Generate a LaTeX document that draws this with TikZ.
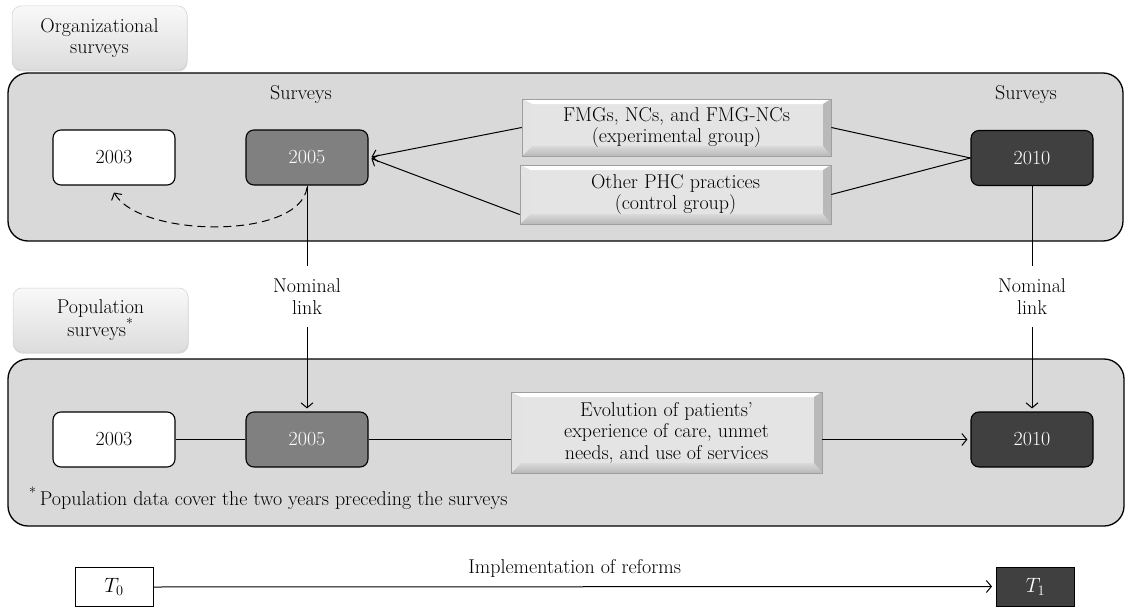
\documentclass[tikz,border=0pt]{standalone}
\usetikzlibrary{arrows.meta,shadows,calc}
\definecolor{panel}{HTML}{D9D9D9}
\definecolor{midgray}{HTML}{808080}
\definecolor{darkgray}{HTML}{404040}
\definecolor{bevelface}{HTML}{E4E4E4}
\tikzset{
  panelbox/.style={draw=black, line width=1.3pt, fill=panel, rounded corners=20pt},
  labelbox/.style={rounded corners=9pt, draw=gray!35, line width=0.5pt, top color=gray!5, bottom color=gray!27,
    drop shadow={shadow xshift=0.5pt, shadow yshift=-1.5pt, opacity=0.3},
    align=center, minimum width=175pt, minimum height=64pt, inner sep=2pt},
  yearbox/.style={draw=black, line width=1.1pt, rounded corners=8pt,
    minimum width=122pt, minimum height=55pt, inner sep=0pt},
  lightyear/.style={yearbox, fill=white},
  midyear/.style={yearbox, fill=midgray, text=white},
  darkyear/.style={yearbox, fill=darkgray, text=white},
  bevelbox/.style={draw=gray!75, line width=0.6pt, fill=bevelface, align=center, inner sep=0pt,
    path picture={
      \fill[white] (path picture bounding box.north west) -- (path picture bounding box.north east)
        -- ([shift={(-8pt,-5pt)}]path picture bounding box.north east)
        -- ([shift={(10pt,-5pt)}]path picture bounding box.north west) -- cycle;
      \fill[gray!55] (path picture bounding box.north east) -- (path picture bounding box.south east)
        -- ([shift={(-8pt,10pt)}]path picture bounding box.south east)
        -- ([shift={(-8pt,-5pt)}]path picture bounding box.north east) -- cycle;
      \shade[top color=gray!30, bottom color=gray!55] (path picture bounding box.south east) -- (path picture bounding box.south west)
        -- ([shift={(10pt,10pt)}]path picture bounding box.south west)
        -- ([shift={(-8pt,10pt)}]path picture bounding box.south east) -- cycle;
      \fill[gray!22] (path picture bounding box.north west)
        -- ([shift={(10pt,-5pt)}]path picture bounding box.north west)
        -- ([shift={(10pt,10pt)}]path picture bounding box.south west)
        -- (path picture bounding box.south west) -- cycle;
    }},
  tbox/.style={draw=black, line width=1pt, minimum width=78pt, minimum height=39pt, inner sep=0pt},
  conn/.style={line width=1pt},
  arr/.style={conn, -{Straight Barb[length=5pt,width=12pt]}, shorten >=3pt},
  nomlabel/.style={align=center, inner xsep=2pt, inner ysep=12.5pt}
}
\begin{document}
\begin{tikzpicture}[x=1pt, y=-1pt, font=\fontsize{20}{21.5}\selectfont]
\useasboundingbox (0,0) rectangle (1125,610);

% panels
\node[panelbox, minimum width=1115pt, minimum height=168pt] (toppanel) at (565.5,157) {};
\node[panelbox, minimum width=1116pt, minimum height=167pt] (botpanel) at (566,442.5) {};

% section labels
\node[labelbox] (orglab) at (99.5,38) {Organizational\\surveys};
\node[labelbox] (poplab) at (100.5,320) {Population\\surveys\textsuperscript{*}};

% top row
\node (surv1) at (301,95) {Surveys};
\node (surv2) at (1026,95) {Surveys};
\node[lightyear] (t2003) at (114,157.5) {2003};
\node[midyear] (t2005) at (307,157.5) {2005};
\node[darkyear] (t2010) at (1032,158) {2010};
\node[bevelbox, minimum width=309pt, minimum height=57pt] (fmg) at (676.5,127.5)
  {FMGs, NCs, and FMG-NCs\\(experimental group)};
\node[bevelbox, minimum width=311pt, minimum height=59pt] (phc) at (675.5,194.5)
  {Other PHC practices\\(control group)};

\draw[arr] (fmg.west) -- (t2005.east);
\draw[arr] ([yshift=-20pt]phc.west) -- (t2005.east);
\draw[conn] (fmg.east) -- (t2010.west);
\draw[conn] (phc.east) -- (t2010.west);
\draw[conn, dash pattern=on 8pt off 5pt, -{Straight Barb[length=5pt,width=12pt]}]
  ([yshift=-2pt]t2005.south) .. controls (300,240) and (140,238) .. ([yshift=-7pt]t2003.south);

% bottom row
\node[lightyear] (b2003) at (114,439.5) {2003};
\node[midyear] (b2005) at (307,439.5) {2005};
\node[darkyear] (b2010) at (1032,439.5) {2010};
\node[bevelbox, minimum width=311pt, minimum height=81pt] (evo) at (666.5,432.5)
  {Evolution of patients'\\experience of care, unmet\\needs, and use of services};

\draw[conn] (b2003.east) -- (b2005.west);
\draw[conn] (b2005.east) -- (b2005.east -| evo.west);
\draw[arr] (evo.east |- b2010.west) -- (b2010.west);

% nominal links
\node[nomlabel] (nom1) at (307,296.5) {Nominal\\link};
\node[nomlabel] (nom2) at (1032,296.5) {Nominal\\link};
\draw[conn] (t2005.south) -- (nom1.north);
\draw[arr] (nom1.south) -- (b2005.north);
\draw[conn] (t2010.south) -- (nom2.north);
\draw[arr] (nom2.south) -- (b2010.north);

% footnote
\node[anchor=base west, inner sep=0pt] (foot) at (29,505)
  {\textsuperscript{*}\,Population data cover the two years preceding the surveys};

% timeline
\node[tbox, fill=white] (tzero) at (114,587) {$T_0$};
\node[tbox, fill=darkgray, text=white] (tone) at (1035.5,586.5) {$T_1$};
\draw[arr, shorten >=4pt] (tzero.east) -- node[above=6pt] (impl) {Implementation of reforms} (tone.west);
\end{tikzpicture}
\end{document}
